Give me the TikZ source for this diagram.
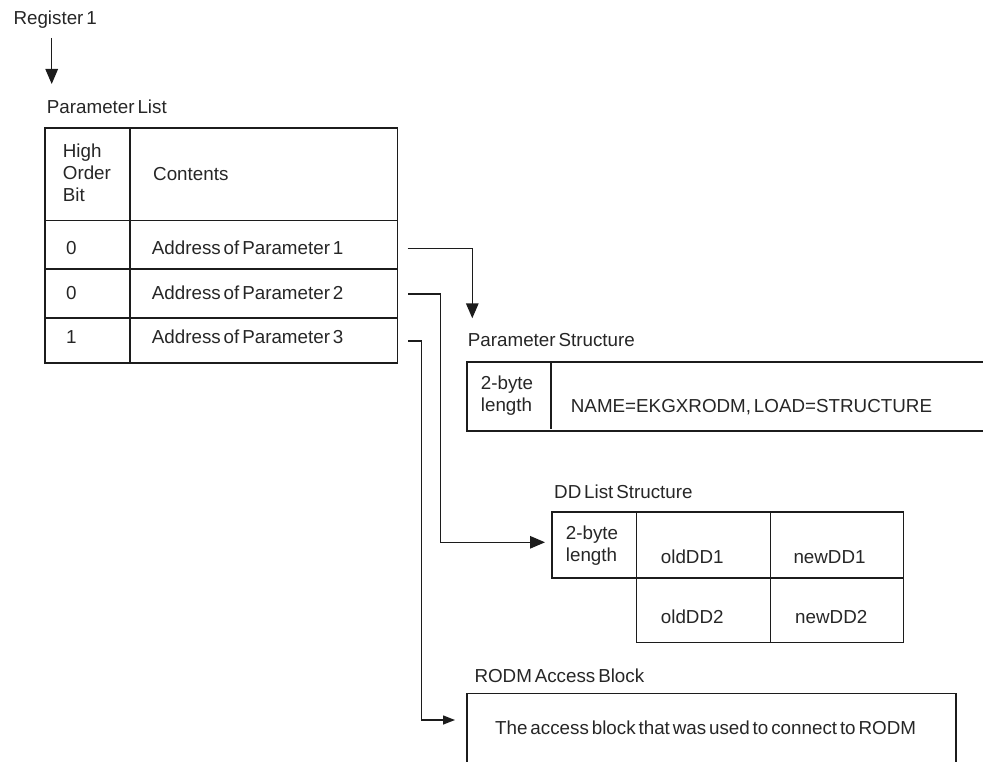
\documentclass[tikz,border=0pt]{standalone}
\usepackage{fontspec}
\setmainfont{Liberation Sans}[WordSpace=0.55]
\usepackage{tikz}
\usetikzlibrary{arrows.meta,positioning}
\definecolor{IbmInk}{HTML}{1C1C1C}
\definecolor{IbmText}{HTML}{262626}

\tikzset{
  lbl/.style={anchor=base west,inner sep=0pt,text=IbmText,align=left},
  cell/.style 2 args={draw=IbmInk,line width=1.6pt,anchor=north west,inner sep=0pt,
    outer sep=0pt,minimum width=#1pt,minimum height=#2pt},
  frame/.style 2 args={cell={#1}{#2},draw=none},
  rim/.style={IbmInk,line width=1.6pt},
  link/.style={IbmInk,line width=1.4pt,-{Triangle[length=15pt,width=12.5pt]}},
}

\begin{document}
\begin{tikzpicture}[x=1pt,y=-1pt,font=\fontsize{18.8}{22}\selectfont]
  \useasboundingbox (0,0) rectangle (983,762);

  % register 1 and the parameter list
  \node[lbl] (reg) at (13.3,24.7) {Register 1};
  \coordinate (regtop) at (51.7,38);
  \coordinate (regtip) at (51.7,84);
  \draw[link] (regtop) -- (regtip);
  \node[lbl] (plist) at (46.7,113.3) {Parameter List};

  \node[cell={84.7}{92.7}] (hbit) at (45,128) {};
  \node[cell={267.8}{92.7}] (hcont) at (129.7,128) {};
  % multi-line labels sit on their last line
  \node[lbl] (hbittxt) at (62.7,201.7) {High\\Order\\Bit};
  \node[lbl] (hconttxt) at (153,181) {Contents};
  \foreach \r/\ry/\rh/\rb/\bit in {1/220.7/48.6/254.7/0,2/269.3/48.4/299.3/0,3/317.7/45/343.3/1}{
    \node[cell={84.7}{\rh}] (b\r) at (45,\ry) {};
    \node[cell={267.8}{\rh}] (a\r) at (129.7,\ry) {};
    \node[lbl] (bt\r) at (66,\rb) {\bit};
    \node[lbl] (at\r) at (151.7,\rb) {Address of Parameter \r};
  }

  % parameter structure
  \node[lbl] (pslbl) at (467.7,346.7) {Parameter Structure};
  \node[frame={516.3}{69.3}] (psbox) at (466.7,361.7) {};
  \draw[rim] (psbox.north east) -- (psbox.north west) -- (psbox.south west) -- (psbox.south east);
  \draw[rim] ([xshift=84.3pt]psbox.north west) -- ([xshift=84.3pt,yshift=2pt]psbox.south west);
  \node[lbl] (pslen) at (480.7,411.3) {2-byte\\length};
  \node[lbl] (psname) at (570.7,412) {NAME=EKGXRODM, LOAD=STRUCTURE};

  % dd list structure
  \node[lbl] (ddlbl) at (554,498.3) {DD List Structure};
  \node[cell={84.6}{66}] (dlen) at (551.7,511.7) {};
  \node[cell={134}{66}] (dold1) at (636.3,511.7) {};
  \node[cell={133}{66}] (dnew1) at (770.3,511.7) {};
  \node[cell={134}{64.6}] (dold2) at (636.3,577.7) {};
  \node[cell={133}{64.6}] (dnew2) at (770.3,577.7) {};
  \node[lbl] (dlentxt) at (565.7,561.3) {2-byte\\length};
  \node[lbl] (dold1txt) at (660.7,563.3) {oldDD1};
  \node[lbl] (dnew1txt) at (793.3,563.3) {newDD1};
  \node[lbl] (dold2txt) at (660.7,623.3) {oldDD2};
  \node[lbl] (dnew2txt) at (795,623.3) {newDD2};

  % rodm access block
  \node[lbl] (rodmlbl) at (474.3,682.3) {RODM Access Block};
  \node[frame={489.3}{70}] (rodmbox) at (466.7,693.3) {};
  \draw[rim] (rodmbox.south west) -- (rodmbox.north west) -- (rodmbox.north east) -- (rodmbox.south east);
  \node[lbl] (rodmtxt) at (495,734.3) {The access block that was used to connect to RODM};

  % pointers
  \coordinate (pstip) at (472.3,318.3);
  \coordinate (ddbend) at (440.3,542.3);
  \coordinate (ddtip) at (545,542.3);
  \coordinate (rbend) at (421.7,720);
  \coordinate (rtip) at (455,720);
  \draw[link] (a1.east) ++(10.2,3.3) -| (pstip);
  \draw[link] (a2.east) ++(10.5,0.5) -| (ddbend) -- (ddtip);
  \draw[link,-{Triangle[length=12pt,width=9pt]}] (a3.east) ++(10.5,0.8) -| (rbend) -- (rtip);
\end{tikzpicture}
\end{document}
